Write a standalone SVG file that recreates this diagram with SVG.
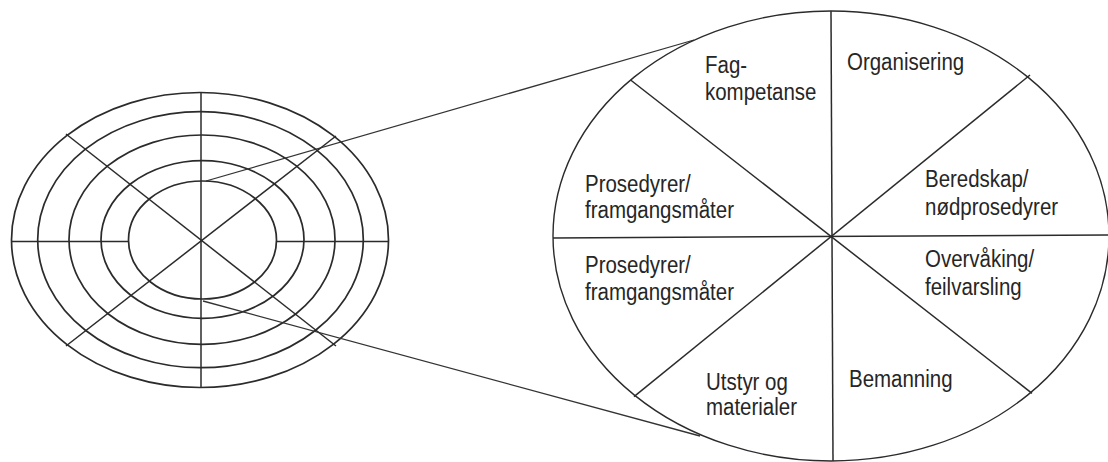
<svg xmlns="http://www.w3.org/2000/svg" width="1108" height="462" viewBox="0 0 1108 462">
  <style>
    .ring { fill: none; stroke: #2b2b2b; stroke-width: 1.7; }
    .spoke { fill: none; stroke: #2b2b2b; stroke-width: 1.5; }
    .link { fill: none; stroke: #333; stroke-width: 1.3; }
    .big { fill: #fff; stroke: #2b2b2b; stroke-width: 1.4; }
    .lbl { font-family: "Liberation Sans", Arial, sans-serif; font-size: 23px; fill: #262626; }
  </style>
  <rect width="1108" height="462" fill="#fff"/>

  <!-- small concentric target -->
  <g id="target">
    <ellipse class="ring" cx="200" cy="240" rx="188.5" ry="147.5"/>
    <ellipse class="ring" cx="200.5" cy="239.7" rx="162.8" ry="128"/>
    <ellipse class="ring" cx="202" cy="239.7" rx="133" ry="104.7"/>
    <ellipse class="ring" cx="202.5" cy="239.5" rx="101.5" ry="78.8"/>
    <ellipse class="ring" cx="202.5" cy="240" rx="74" ry="59"/>
    <line class="spoke" x1="201" y1="92.5" x2="201" y2="387.5"/>
    <line class="spoke" x1="11.5" y1="241.5" x2="128.5" y2="241.5"/>
    <line class="spoke" x1="276.5" y1="241.5" x2="388.5" y2="241.5"/>
    <line class="spoke" x1="66" y1="134" x2="336" y2="346"/>
    <line class="spoke" x1="336" y1="136" x2="66" y2="346"/>
  </g>

  <!-- magnification lines -->
  <g id="connectors">
    <line class="link" x1="206" y1="181" x2="694" y2="40"/>
    <line class="link" x1="203" y1="301" x2="700" y2="436"/>
  </g>

  <!-- enlarged sector wheel -->
  <g id="wheel">
    <ellipse class="big" cx="831" cy="236" rx="278" ry="225"/>
    <line class="spoke" x1="831" y1="11" x2="833" y2="461"/>
    <line class="spoke" x1="553" y1="238" x2="1108" y2="235"/>
    <line class="spoke" x1="630.6" y1="80" x2="1032" y2="393.3"/>
    <line class="spoke" x1="1030" y1="75" x2="634" y2="396.7"/>
  </g>

  <g id="sector-fagkompetanse">
    <text class="lbl" transform="translate(705,73) scale(0.89,1)">Fag-</text>
    <text class="lbl" transform="translate(705,100) scale(0.89,1)">kompetanse</text>
  </g>
  <g id="sector-organisering">
    <text class="lbl" transform="translate(847,70) scale(0.89,1)">Organisering</text>
  </g>
  <g id="sector-prosedyrer-upper">
    <text class="lbl" transform="translate(585,192) scale(0.89,1)">Prosedyrer/</text>
    <text class="lbl" transform="translate(585,218) scale(0.89,1)">framgangsmåter</text>
  </g>
  <g id="sector-beredskap">
    <text class="lbl" transform="translate(925,187) scale(0.89,1)">Beredskap/</text>
    <text class="lbl" transform="translate(925,215) scale(0.89,1)">nødprosedyrer</text>
  </g>
  <g id="sector-prosedyrer-lower">
    <text class="lbl" transform="translate(585,273) scale(0.89,1)">Prosedyrer/</text>
    <text class="lbl" transform="translate(585,300) scale(0.89,1)">framgangsmåter</text>
  </g>
  <g id="sector-overvaking">
    <text class="lbl" transform="translate(925,267) scale(0.89,1)">Overvåking/</text>
    <text class="lbl" transform="translate(925,295) scale(0.89,1)">feilvarsling</text>
  </g>
  <g id="sector-utstyr">
    <text class="lbl" transform="translate(706,390) scale(0.89,1)">Utstyr og</text>
    <text class="lbl" transform="translate(706,415) scale(0.89,1)">materialer</text>
  </g>
  <g id="sector-bemanning">
    <text class="lbl" transform="translate(849,387) scale(0.89,1)">Bemanning</text>
  </g>
</svg>
